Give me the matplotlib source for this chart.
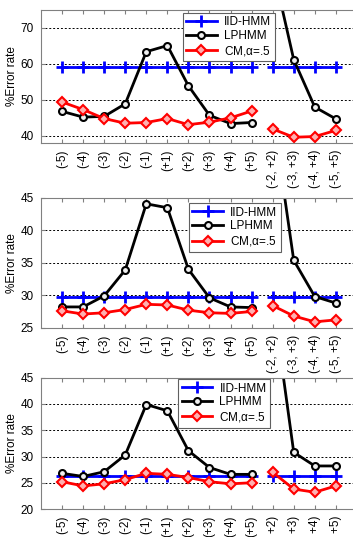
import numpy as np
import matplotlib
matplotlib.use('Agg')
from matplotlib import pyplot as plt

plt.rcParams['font.family'] = ['Liberation Sans', 'DejaVu Sans']

# x categories: single offsets, then symmetric pairs
labels = ['(-5)', '(-4)', '(-3)', '(-2)', '(-1)', '(+1)', '(+2)', '(+3)', '(+4)', '(+5)',
          '(-2, +2)', '(-3, +3)', '(-4, +4)', '(-5, +5)']

# panel 1
iid_1 = [59.2] * 14
lphmm_1 = [46.8, 45.2, 45.4, 48.9, 63.4, 65.1, 53.9, 45.7, 43.4, 43.7, 87.0, 61.2, 48.0, 44.7]
cm_1 = [49.4, 47.3, 44.8, 43.5, 43.7, 44.8, 43.1, 43.8, 45.0, 46.9, 41.9, 39.6, 39.8, 41.5]

# panel 2
iid_2 = [29.7] * 14
lphmm_2 = [28.2, 28.2, 29.9, 33.9, 44.1, 43.5, 34.0, 29.6, 28.2, 28.1, 58.0, 35.4, 29.8, 28.8]
cm_2 = [27.6, 27.1, 27.3, 27.8, 28.6, 28.5, 27.7, 27.3, 27.2, 27.5, 28.4, 26.8, 25.9, 26.2]

# panel 3
iid_3 = [26.3] * 14
lphmm_3 = [26.8, 26.2, 27.1, 30.3, 39.9, 38.7, 31.1, 27.9, 26.6, 26.6, 60.0, 30.8, 28.2, 28.2]
cm_3 = [25.2, 24.4, 24.8, 25.6, 26.8, 26.6, 26.0, 25.2, 24.8, 25.0, 27.0, 23.8, 23.2, 24.4]

panels = [
    (iid_1, lphmm_1, cm_1, (38, 75), [40, 50, 60, 70], [0.1161, 0.7337, 0.895, 0.2477], (0.448, 0.98)),
    (iid_2, lphmm_2, cm_2, (25, 45), [25, 30, 35, 40, 45], [0.1161, 0.3898, 0.895, 0.2415], (0.468, 0.961)),
    (iid_3, lphmm_3, cm_3, (20, 45), [20, 25, 30, 35, 40, 45], [0.1161, 0.0521, 0.895, 0.2445], (0.434, 0.99)),
]

x = np.arange(1, 15)
styles = [
    dict(color='#0000ff', marker='+', markersize=8, markeredgewidth=2, label='IID-HMM'),
    dict(color='black', marker='o', markersize=5, markerfacecolor='#f0f0f0', markeredgewidth=1.5, label='LPHMM'),
    dict(color='#ff0000', marker='D', markersize=5, markerfacecolor='#ffb0b0', markeredgewidth=1.5,
         label=r'CM,$\mathregular{\alpha}$=.5'),
]

fig = plt.figure(figsize=(3.53, 5.37), dpi=100)

for iid, lphmm, cm, ylim, yticks, rect, leg_pos in panels:
    ax = fig.add_axes(rect)
    for series, st in zip([iid, lphmm, cm], styles):
        y = np.array(series)
        # two separate segments: single offsets and pairs
        ax.plot(x[:10], y[:10], linewidth=2, **st)
        st2 = dict(st)
        st2.pop('label')
        ax.plot(x[10:], y[10:], linewidth=2, **st2)

    ax.set_xlim(0, 15)
    ax.set_ylim(*ylim)
    ax.set_yticks(yticks)
    ax.set_xticks(x)
    ax.set_xticklabels(labels, rotation=90, fontsize=8.5)
    ax.tick_params(axis='y', labelsize=8.5, pad=5)
    ax.tick_params(direction='in', length=3, color='#808080', top=True, right=True)
    ax.tick_params(axis='x', pad=5)
    for sp in ax.spines.values():
        sp.set_color('#808080')
    ax.yaxis.grid(True, color='black', linestyle=(0, (2, 2)), linewidth=0.7)
    ax.set_ylabel('%Error rate', fontsize=8.5)
    ax.yaxis.set_label_coords(-0.072, 0.5)

    leg = ax.legend(loc='upper left', bbox_to_anchor=leg_pos, fontsize=8.5, handlelength=2.6,
                    labelspacing=0.15, borderpad=0.3, handletextpad=0.6, fancybox=False,
                    framealpha=1, edgecolor='#606060', borderaxespad=0)
    leg.get_frame().set_linewidth(0.8)

fig.savefig('out.png', dpi=100)
